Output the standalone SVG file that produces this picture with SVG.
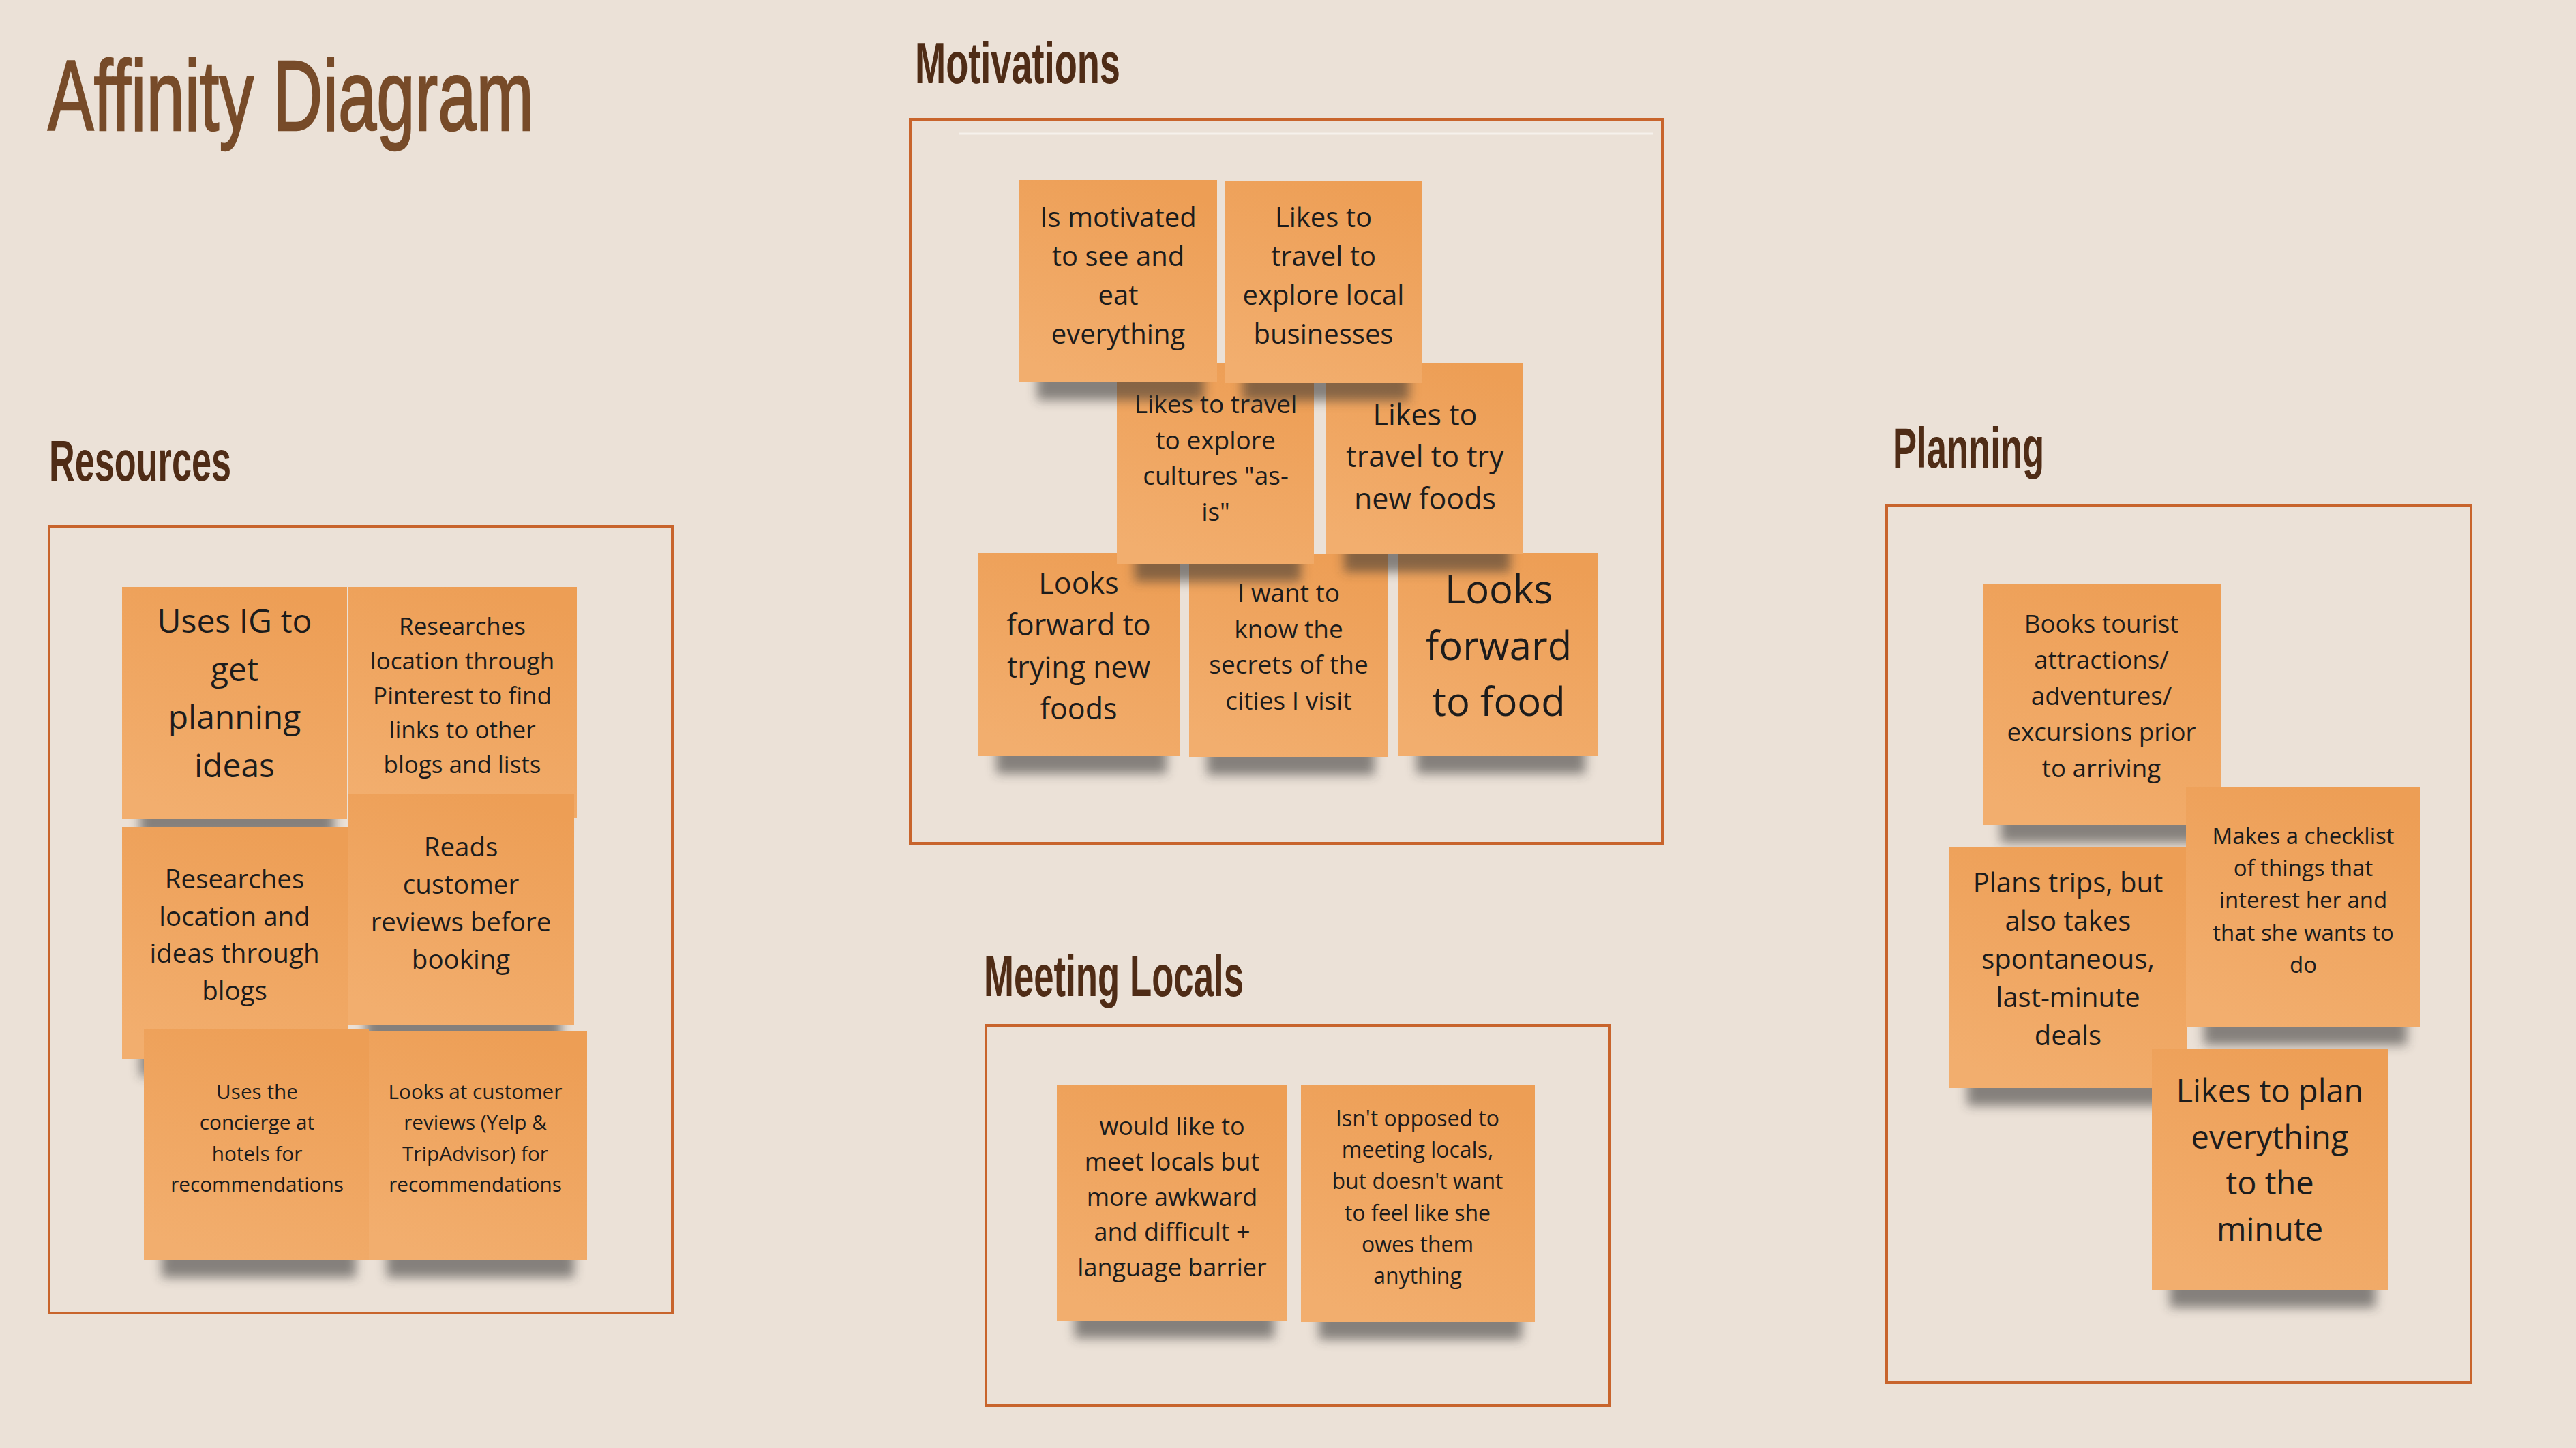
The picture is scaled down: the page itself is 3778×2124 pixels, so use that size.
<svg xmlns="http://www.w3.org/2000/svg" width="3778" height="2124" viewBox="0 0 3778 2124">
<defs>
<linearGradient id="paper" x1="0.7" y1="0" x2="0.3" y2="1">
<stop offset="0" stop-color="#ed9e55"/>
<stop offset="1" stop-color="#f2ae6e"/>
</linearGradient>
<filter id="blur" x="-20%" y="-60%" width="140%" height="220%">
<feGaussianBlur stdDeviation="8"/>
</filter>
</defs>
<style>
.bg{fill:#ebe1d7}
.frame{fill:none;stroke:#c8642c;stroke-width:4}
.title{font-family:"Liberation Sans",Arial,sans-serif;fill:#774b29;stroke:#774b29;stroke-width:2.5}
.sect{font-family:"Liberation Sans",Arial,sans-serif;font-weight:bold;fill:#4f2c16}
.paper{fill:url(#paper)}
.shadow{fill:#333;opacity:0.55;filter:url(#blur)}
.note text{font-family:"Open Sans","Liberation Sans",sans-serif;fill:#1c1c1c;text-anchor:middle}
</style>
<rect class="bg" x="0" y="0" width="3778" height="2124"/>

<text class="title" x="70" y="191" font-size="146" textLength="713" lengthAdjust="spacingAndGlyphs">Affinity Diagram</text>
<text class="sect" x="1342" y="122" font-size="85" textLength="301" lengthAdjust="spacingAndGlyphs">Motivations</text>
<text class="sect" x="72" y="705" font-size="83" textLength="267" lengthAdjust="spacingAndGlyphs">Resources</text>
<text class="sect" x="1443" y="1461" font-size="85" textLength="381" lengthAdjust="spacingAndGlyphs">Meeting Locals</text>
<text class="sect" x="2776" y="686" font-size="83" textLength="222" lengthAdjust="spacingAndGlyphs">Planning</text>

<g id="groups">
<rect class="frame" x="72" y="772" width="914" height="1154"/>
<rect class="frame" x="1335" y="175" width="1103" height="1062"/>
<line x1="1407" y1="196" x2="2425" y2="196" stroke="#f6f1ec" stroke-width="3"/>
<rect class="frame" x="1446" y="1504" width="914" height="558"/>
<rect class="frame" x="2767" y="741" width="857" height="1287"/>
</g>

<!-- Resources -->
<g id="r1" class="note">
<rect class="shadow" x="205" y="1181" width="285" height="46"/>
<rect class="paper" x="179" y="861" width="330" height="340"/>
<text font-size="48"><tspan x="344" y="928">Uses IG to</tspan><tspan x="344" dy="70.5">get</tspan><tspan x="344" dy="70.5">planning</tspan><tspan x="344" dy="70.5">ideas</tspan></text>
</g>
<g id="r2" class="note">
<rect class="shadow" x="537" y="1180" width="290" height="46"/>
<rect class="paper" x="511" y="861" width="335" height="339"/>
<text font-size="35"><tspan x="678" y="931">Researches</tspan><tspan x="678" dy="50.8">location through</tspan><tspan x="678" dy="50.8">Pinterest to find</tspan><tspan x="678" dy="50.8">links to other</tspan><tspan x="678" dy="50.8">blogs and lists</tspan></text>
</g>
<g id="r3" class="note">
<rect class="shadow" x="205" y="1533" width="286" height="46"/>
<rect class="paper" x="179" y="1213" width="331" height="340"/>
<text font-size="38.5"><tspan x="344" y="1303">Researches</tspan><tspan x="344" dy="54.5">location and</tspan><tspan x="344" dy="54.5">ideas through</tspan><tspan x="344" dy="54.5">blogs</tspan></text>
</g>
<g id="r4" class="note">
<rect class="shadow" x="536" y="1484" width="287" height="46"/>
<rect class="paper" x="510" y="1164" width="332" height="340"/>
<text font-size="38.5"><tspan x="676" y="1256">Reads</tspan><tspan x="676" dy="55">customer</tspan><tspan x="676" dy="55">reviews before</tspan><tspan x="676" dy="55">booking</tspan></text>
</g>
<g id="r5" class="note">
<rect class="shadow" x="237" y="1828" width="285" height="46"/>
<rect class="paper" x="211" y="1510" width="330" height="338"/>
<text font-size="29.7"><tspan x="377" y="1612">Uses the</tspan><tspan x="377" dy="45.3">concierge at</tspan><tspan x="377" dy="45.3">hotels for</tspan><tspan x="377" dy="45.3">recommendations</tspan></text>
</g>
<g id="r6" class="note">
<rect class="shadow" x="567" y="1828" width="275" height="46"/>
<rect class="paper" x="541" y="1513" width="320" height="335"/>
<text font-size="29.7"><tspan x="697" y="1612">Looks at customer</tspan><tspan x="697" dy="45.3">reviews (Yelp &amp;</tspan><tspan x="697" dy="45.3">TripAdvisor) for</tspan><tspan x="697" dy="45.3">recommendations</tspan></text>
</g>

<!-- Motivations: bottom row first -->
<g id="m5" class="note">
<rect class="shadow" x="1461" y="1089" width="250" height="46"/>
<rect class="paper" x="1435" y="811" width="295" height="298"/>
<text font-size="43"><tspan x="1582" y="871">Looks</tspan><tspan x="1582" dy="61.3">forward to</tspan><tspan x="1582" dy="61.3">trying new</tspan><tspan x="1582" dy="61.3">foods</tspan></text>
</g>
<g id="m6" class="note">
<rect class="shadow" x="1770" y="1091" width="246" height="46"/>
<rect class="paper" x="1744" y="813" width="291" height="298"/>
<text font-size="37"><tspan x="1890" y="883">I want to</tspan><tspan x="1890" dy="52.7">know the</tspan><tspan x="1890" dy="52.7">secrets of the</tspan><tspan x="1890" dy="52.7">cities I visit</tspan></text>
</g>
<g id="m7" class="note">
<rect class="shadow" x="2077" y="1089" width="248" height="46"/>
<rect class="paper" x="2051" y="811" width="293" height="298"/>
<text font-size="58"><tspan x="2198" y="885">Looks</tspan><tspan x="2198" dy="82.5">forward</tspan><tspan x="2198" dy="82.5">to food</tspan></text>
</g>
<g id="m3" class="note">
<rect class="shadow" x="1664" y="807" width="244" height="46"/>
<rect class="paper" x="1638" y="533" width="289" height="294"/>
<text font-size="37"><tspan x="1783" y="606">Likes to travel</tspan><tspan x="1783" dy="52.5">to explore</tspan><tspan x="1783" dy="52.5">cultures "as-</tspan><tspan x="1783" dy="52.5">is"</tspan></text>
</g>
<g id="m4" class="note">
<rect class="shadow" x="1971" y="793" width="244" height="46"/>
<rect class="paper" x="1945" y="532" width="289" height="281"/>
<text font-size="43"><tspan x="2090" y="624">Likes to</tspan><tspan x="2090" dy="61.3">travel to try</tspan><tspan x="2090" dy="61.3">new foods</tspan></text>
</g>
<g id="m1" class="note">
<rect class="shadow" x="1521" y="541" width="245" height="46"/>
<rect class="paper" x="1495" y="264" width="290" height="297"/>
<text font-size="40"><tspan x="1640" y="333">Is motivated</tspan><tspan x="1640" dy="57">to see and</tspan><tspan x="1640" dy="57">eat</tspan><tspan x="1640" dy="57">everything</tspan></text>
</g>
<g id="m2" class="note">
<rect class="shadow" x="1822" y="542" width="245" height="46"/>
<rect class="paper" x="1796" y="265" width="290" height="297"/>
<text font-size="40"><tspan x="1941" y="333">Likes to</tspan><tspan x="1941" dy="57">travel to</tspan><tspan x="1941" dy="57">explore local</tspan><tspan x="1941" dy="57">businesses</tspan></text>
</g>

<!-- Meeting Locals -->
<g id="l1" class="note">
<rect class="shadow" x="1576" y="1917" width="293" height="46"/>
<rect class="paper" x="1550" y="1591" width="338" height="346"/>
<text font-size="36"><tspan x="1719" y="1665">would like to</tspan><tspan x="1719" dy="51.8">meet locals but</tspan><tspan x="1719" dy="51.8">more awkward</tspan><tspan x="1719" dy="51.8">and difficult +</tspan><tspan x="1719" dy="51.8">language barrier</tspan></text>
</g>
<g id="l2" class="note">
<rect class="shadow" x="1934" y="1919" width="298" height="46"/>
<rect class="paper" x="1908" y="1592" width="343" height="347"/>
<text font-size="32"><tspan x="2079" y="1652">Isn't opposed to</tspan><tspan x="2079" dy="46.2">meeting locals,</tspan><tspan x="2079" dy="46.2">but doesn't want</tspan><tspan x="2079" dy="46.2">to feel like she</tspan><tspan x="2079" dy="46.2">owes them</tspan><tspan x="2079" dy="46.2">anything</tspan></text>
</g>

<!-- Planning -->
<g id="p1" class="note">
<rect class="shadow" x="2934" y="1190" width="304" height="46"/>
<rect class="paper" x="2908" y="857" width="349" height="353"/>
<text font-size="36.7"><tspan x="3082" y="928">Books tourist</tspan><tspan x="3082" dy="53">attractions/</tspan><tspan x="3082" dy="53">adventures/</tspan><tspan x="3082" dy="53">excursions prior</tspan><tspan x="3082" dy="53">to arriving</tspan></text>
</g>
<g id="p3" class="note">
<rect class="shadow" x="2885" y="1576" width="304" height="46"/>
<rect class="paper" x="2859" y="1242" width="349" height="354"/>
<text font-size="40"><tspan x="3033" y="1309">Plans trips, but</tspan><tspan x="3033" dy="56">also takes</tspan><tspan x="3033" dy="56">spontaneous,</tspan><tspan x="3033" dy="56">last-minute</tspan><tspan x="3033" dy="56">deals</tspan></text>
</g>
<g id="p2" class="note">
<rect class="shadow" x="3232" y="1487" width="298" height="46"/>
<rect class="paper" x="3206" y="1155" width="343" height="352"/>
<text font-size="33"><tspan x="3378" y="1238">Makes a checklist</tspan><tspan x="3378" dy="47.2">of things that</tspan><tspan x="3378" dy="47.2">interest her and</tspan><tspan x="3378" dy="47.2">that she wants to</tspan><tspan x="3378" dy="47.2">do</tspan></text>
</g>
<g id="p4" class="note">
<rect class="shadow" x="3182" y="1872" width="302" height="46"/>
<rect class="paper" x="3156" y="1538" width="347" height="354"/>
<text font-size="47"><tspan x="3329" y="1617">Likes to plan</tspan><tspan x="3329" dy="67.7">everything</tspan><tspan x="3329" dy="67.7">to the</tspan><tspan x="3329" dy="67.7">minute</tspan></text>
</g>
</svg>
